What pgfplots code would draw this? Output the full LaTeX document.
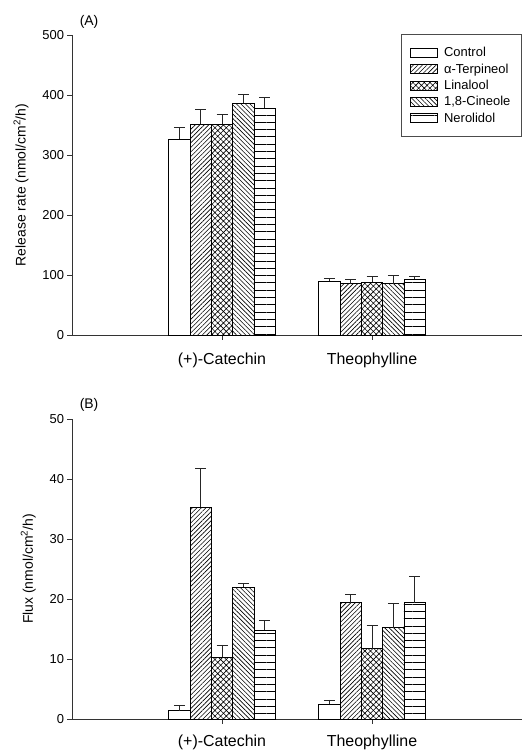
\documentclass[border=0pt]{standalone}
\usepackage{fontspec}
\setmainfont{Liberation Sans}
\usepackage{pgfplots}
\pgfplotsset{compat=1.18}
\usetikzlibrary{patterns.meta}

% fill styles of the five treatments
\tikzset{
  pCtrl/.style={fill=white},
  pTerp/.style={pattern={Lines[angle=45,distance=3.2bp,line width=0.6bp]}},
  pLin/.style={pattern={Hatch[angle=45,distance=4bp,line width=0.6bp]}},
  pCin/.style={pattern={Lines[angle=-45,distance=3.2bp,line width=0.6bp]}},
  pNer/.style={pattern={Lines[angle=0,distance=7.3bp,line width=0.6bp]}},
}

\pgfplotsset{
  panel/.style={
    scale only axis, width=450bp, height=300bp,
    xmin=0, xmax=3, ymin=0, clip=false,
    axis x line*=bottom, axis y line*=left,
    axis line style={line width=0.8bp, black!80},
    ybar=0pt, bar width=21.3bp,
    xtick={1,2}, xticklabels={(+)-Catechin, Theophylline},
    x tick label style={font=\fontsize{16}{18}\selectfont, yshift=-10bp},
    y tick label style={font=\fontsize{13}{15}\selectfont},
    tick align=outside, major tick length=4.5bp,
    tick style={black!80, line width=0.8bp},
    /pgf/number format/assume math mode=true,
    ylabel style={font=\fontsize{14}{16}\selectfont},
    ylabel shift=7bp,
    legend image code/.code={\draw[##1, line width=0.8bp] (0bp,-4.5bp) rectangle (27bp,4.5bp);
      \path (31bp,0bp);},
  },
  eb/.style={draw=black, line width=0.8bp,
    error bars/y dir=plus, error bars/y explicit,
    error bars/error bar style={line width=0.8bp, black!85},
    error bars/error mark options={rotate=90, mark size=5.5bp, line width=0.8bp, black!85}},
}

\begin{document}
\begin{tikzpicture}
\useasboundingbox (0,0) rectangle (525bp,-750bp);

% (A) release rate
\begin{axis}[panel, at={(72bp,-335bp)}, anchor=south west,
    ymax=500, ytick={0,100,...,500},
    ylabel={Release rate (nmol/cm\textsuperscript{2}/h)},
    legend style={at={(rel axis cs:0.731,1.003)}, anchor=north west,
      font=\fontsize{13}{15}\selectfont, draw=black!70, line width=0.8bp,
      inner xsep=9bp, inner ysep=11bp, row sep=1.5bp,
      legend cell align=left},
  ]
\addplot[pCtrl, eb] coordinates {(1,326.7) +- (0,19.3) (2,89.4) +- (0,5.0)};
\addplot[pTerp, eb] coordinates {(1,351.0) +- (0,24.5) (2,85.6) +- (0,7.2)};
\addplot[pLin, eb]  coordinates {(1,351.0) +- (0,17.0) (2,88.3) +- (0,8.9)};
\addplot[pCin, eb]  coordinates {(1,386.0) +- (0,15.5) (2,85.6) +- (0,13.8)};
\addplot[pNer, eb]  coordinates {(1,377.8) +- (0,17.7) (2,92.8) +- (0,4.9)};
\legend{Control, α-Terpineol, Linalool, {1,8-Cineole}, Nerolidol}
\node[font=\fontsize{14}{16}\selectfont] at (rel axis cs:0.038,1.043) {(A)};
\end{axis}

% (B) flux
\begin{axis}[panel, at={(72bp,-719bp)}, anchor=south west,
    ymax=50, ytick={0,10,...,50},
    ylabel={Flux (nmol/cm\textsuperscript{2}/h)},
    x tick label style={yshift=2bp},
  ]
\addplot[pCtrl, eb] coordinates {(1,1.39) +- (0,0.89) (2,2.45) +- (0,0.72)};
\addplot[pTerp, eb] coordinates {(1,35.3) +- (0,6.4) (2,19.37) +- (0,1.33)};
\addplot[pLin, eb]  coordinates {(1,10.3) +- (0,2.05) (2,11.74) +- (0,3.84)};
\addplot[pCin, eb]  coordinates {(1,22.0) +- (0,0.65) (2,15.25) +- (0,4.0)};
\addplot[pNer, eb]  coordinates {(1,14.8) +- (0,1.7) (2,19.37) +- (0,4.39)};
\node[font=\fontsize{14}{16}\selectfont] at (rel axis cs:0.038,1.047) {(B)};
\end{axis}
\end{tikzpicture}
\end{document}
